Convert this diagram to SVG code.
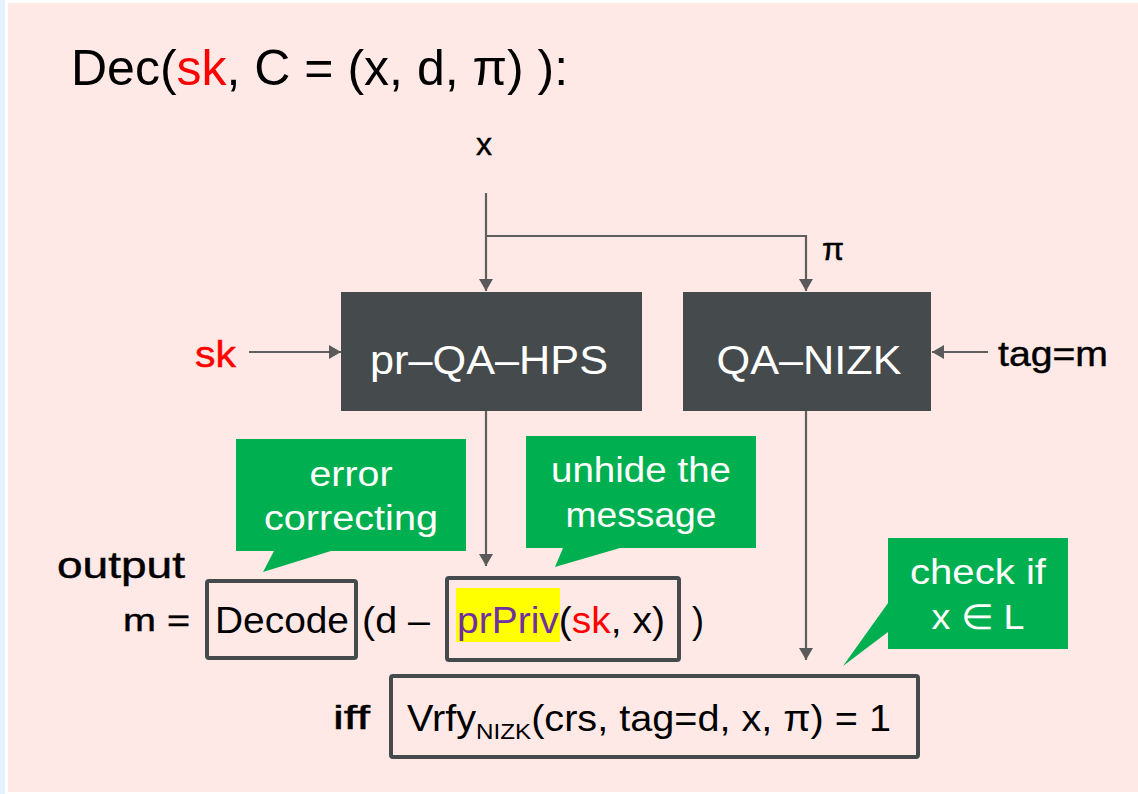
<svg xmlns="http://www.w3.org/2000/svg" width="1138" height="794" viewBox="0 0 1138 794">
  <defs>
    <marker id="arrow" viewBox="0 0 12 14" refX="12" refY="7" markerWidth="12" markerHeight="14" markerUnits="userSpaceOnUse" orient="auto">
      <path d="M0,0 L12,7 L0,14 Z" fill="#5a5a5a"/>
    </marker>
    <style>
      text { font-family: "Liberation Sans", Arial, sans-serif; fill: #000; }
      .med { stroke: #000; stroke-width: 0.45; }
      .med.red { stroke: #ff0000; }
      .conn { stroke: #5e5e5e; stroke-width: 2.2; fill: none; }
      .dark { fill: #454a4d; }
      .boxlabel { fill: #fff; font-size: 40px; }
      .frame { fill: none; stroke: #454a4d; stroke-width: 4; }
      .callout { fill: #00b050; }
      .note { fill: #fff; font-size: 35px; text-anchor: middle; }
      .red { fill: #ff0000; }
      .purple { fill: #7030a0; }
    </style>
  </defs>

  <!-- page background -->
  <rect x="0" y="0" width="1138" height="794" fill="#ffffff"/>
  <rect x="0" y="0" width="5" height="794" fill="#e4f3ff"/>
  <rect x="8" y="3" width="1130" height="789" fill="#ffe9e6"/>

  <!-- heading -->
  <text x="71" y="85" font-size="50">Dec(<tspan class="red">sk</tspan>, C = (x, d, π) ):</text>

  <!-- inputs -->
  <text class="med" x="484" y="155" font-size="32" text-anchor="middle">x</text>
  <text class="med" x="822" y="260" font-size="32">π</text>
  <text class="med red" x="195" y="367" font-size="36" textLength="41" lengthAdjust="spacingAndGlyphs">sk</text>
  <text class="med" x="998" y="366" font-size="35" textLength="110" lengthAdjust="spacingAndGlyphs">tag=m</text>

  <!-- connectors -->
  <g id="connectors">
    <path class="conn" d="M486,193 V291" marker-end="url(#arrow)"/>
    <path class="conn" d="M486,236 H806 V291" marker-end="url(#arrow)"/>
    <path class="conn" d="M249,352 H341" marker-end="url(#arrow)"/>
    <path class="conn" d="M988,352 H932" marker-end="url(#arrow)"/>
    <path class="conn" d="M486,411 V566" marker-end="url(#arrow)"/>
    <path class="conn" d="M806,411 V660" marker-end="url(#arrow)"/>
  </g>

  <!-- processing blocks -->
  <g id="pr-qa-hps">
    <rect class="dark" x="341" y="292" width="301" height="119"/>
    <text class="boxlabel" x="489" y="374" text-anchor="middle" textLength="238" lengthAdjust="spacingAndGlyphs">pr–QA–HPS</text>
  </g>
  <g id="qa-nizk">
    <rect class="dark" x="683" y="292" width="248" height="119"/>
    <text class="boxlabel" x="809" y="374" text-anchor="middle" textLength="185" lengthAdjust="spacingAndGlyphs">QA–NIZK</text>
  </g>

  <!-- annotations -->
  <g id="note-error">
    <path class="callout" d="M236,439 H466 V551 H331 L263,572 L274,551 H236 Z"/>
    <text class="note" x="351" y="486" textLength="83" lengthAdjust="spacingAndGlyphs">error</text>
    <text class="note" x="351" y="530" textLength="174" lengthAdjust="spacingAndGlyphs">correcting</text>
  </g>
  <g id="note-unhide">
    <path class="callout" d="M526,436 H756 V548 H620 L555,567 L563,548 H526 Z"/>
    <text class="note" x="641" y="482" textLength="180" lengthAdjust="spacingAndGlyphs">unhide the</text>
    <text class="note" x="641" y="527" textLength="151" lengthAdjust="spacingAndGlyphs">message</text>
  </g>
  <g id="note-check">
    <path class="callout" d="M888,538 H1068 V649 H888 V632 L843,666 L888,603 Z"/>
    <text class="note" x="978" y="584" textLength="136" lengthAdjust="spacingAndGlyphs">check if</text>
    <text class="note" x="978" y="629" textLength="93" lengthAdjust="spacingAndGlyphs">x ∈ L</text>
  </g>

  <!-- output expression -->
  <g id="output">
    <text class="med" x="57" y="578" font-size="37" textLength="128" lengthAdjust="spacingAndGlyphs">output</text>
    <text class="med" x="123" y="631" font-size="32" textLength="67" lengthAdjust="spacingAndGlyphs">m =</text>
  </g>
  <g id="decode">
    <rect class="frame" x="207" y="581" width="149" height="77" rx="2"/>
    <text x="215" y="633" font-size="36" textLength="134" lengthAdjust="spacingAndGlyphs">Decode</text>
  </g>
  <text x="362" y="633" font-size="36" textLength="68" lengthAdjust="spacingAndGlyphs">(d –</text>
  <g id="prpriv">
    <rect class="frame" x="447" y="578" width="232" height="82" rx="2"/>
    <rect x="456" y="588" width="104" height="54" fill="#ffff00"/>
    <text x="457" y="633" font-size="36" textLength="208" lengthAdjust="spacingAndGlyphs"><tspan class="purple">prPriv</tspan>(<tspan class="red">sk</tspan>, x)</text>
  </g>
  <text x="692" y="633" font-size="36">)</text>

  <!-- verification condition -->
  <text class="med" x="333" y="729" font-size="34" textLength="37" lengthAdjust="spacingAndGlyphs">iff</text>
  <g id="vrfy">
    <rect class="frame" x="391" y="676" width="527" height="81" rx="2"/>
    <text x="407" y="731" font-size="36" textLength="484" lengthAdjust="spacingAndGlyphs">Vrfy<tspan font-size="22" dy="8">NIZK</tspan><tspan dy="-8">(crs, tag=d, x, π) = 1</tspan></text>
  </g>
</svg>
